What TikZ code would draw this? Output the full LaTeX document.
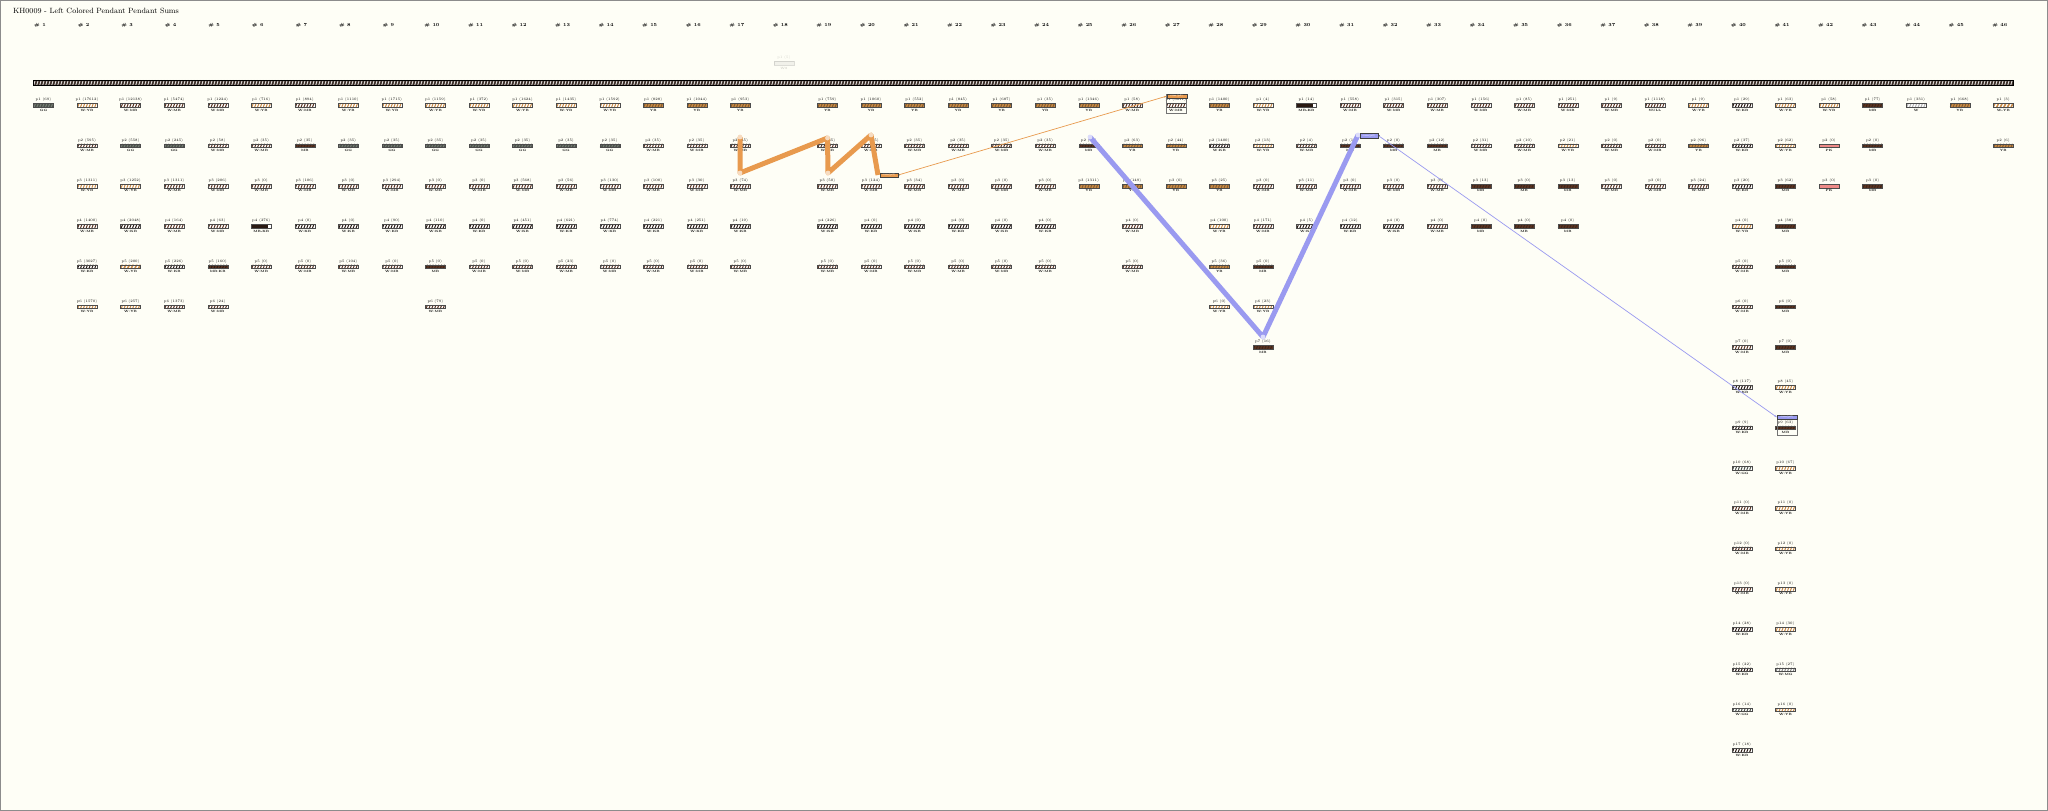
\documentclass[tikz,border=0pt]{standalone}
\usetikzlibrary{calc,arrows.meta}
\definecolor{bgc}{HTML}{FEFEF6}
\definecolor{YBc}{HTML}{C88A45}
\definecolor{MBc}{HTML}{5A3422}
\definecolor{KBc}{HTML}{2A1A12}
\definecolor{GGc}{HTML}{4B5249}
\definecolor{PKc}{HTML}{EE8A88}
\definecolor{MGc}{HTML}{8A8A84}
\definecolor{ORc}{HTML}{E89A4E}
\definecolor{BLc}{HTML}{9A9AF0}
\definecolor{cordc}{HTML}{3A2C25}
\tikzset{
 lbl/.style={font=\fontsize{3.6}{4}\selectfont, inner sep=0},
 code/.style={font=\fontsize{3.1}{4}\selectfont\bfseries, inner sep=0},
 hdr/.style={font=\fontsize{4.6}{5}\selectfont\bfseries, inner sep=0},
 barbase/.style={minimum width=20bp, minimum height=3.6bp, inner sep=0, draw=black!70, line width=0.3bp},
 mix/.style 2 args={fill=#1, path picture={\foreach \i in {0,...,6}{\draw[#2, line width=1bp] ($(path picture bounding box.south west)+(\i*2.85+0.6,0)$) -- ++(1.4,-3.6);}}},
 WMB/.style={mix={white}{MBc}},
 WYB/.style={mix={white}{YBc}},
 WKB/.style={mix={white}{KBc}},
 WGG/.style={mix={white}{GGc}},
 WMG/.style={mix={white}{MGc}},
 MBKB/.style={mix={MBc}{KBc}},
 YB/.style={mix={YBc}{YBc!65!black}},
 MB/.style={mix={MBc}{MBc!70!black}},
 GG/.style={mix={GGc}{GGc!75!white}},
 PK/.style={fill=PKc},
 W/.style={mix={white}{black!30}},
 HALF/.style={fill=white, path picture={\fill[KBc] (path picture bounding box.north west) rectangle ([xshift=-3.5bp]path picture bounding box.south east);}},
 STR/.style={fill=white, path picture={\foreach \i in {0,...,5}{\fill[YBc] ($(path picture bounding box.south west)+(\i*3.6-1,0)$) -- ++(1.8,0) -- ++(1.8,-3.6) -- ++(-1.8,0) -- cycle;}}},
 thickO/.style={line width=5bp, draw=ORc, line join=round},
 thickB/.style={line width=5bp, draw=BLc, line join=round},
 sumbox/.style={draw=black!75, line width=0.4bp, minimum width=18bp, minimum height=4.4bp, inner sep=0, font=\fontsize{2.6}{3}\selectfont, text=white},
}
\newcommand\kc[5]{%
 \pgfmathsetmacro\kx{43.5+(#1-1)*43.55}%
 \pgfmathsetmacro\ky{100+(#2-1)*40.3}%
 \node[lbl] (l#1-#2) at (\kx,\ky) {p#2 (#3)};
 \node[barbase,#5] (b#1-#2) at (\kx,\ky+5.3) {};
 \node[code] (k#1-#2) at (\kx,\ky+10.3) {#4};
}
\begin{document}
\begin{tikzpicture}[x=1bp,y=-1bp]
\useasboundingbox (0,0) rectangle (2048,811);
\fill[bgc] (0,0) rectangle (2048,811);
\draw[black!45, line width=1.2bp] (0.6,0.6) rectangle (2047.4,810.4);
\node[anchor=west, font=\fontsize{7.6}{9}\selectfont, inner sep=0] (title) at (13,11) {KH0009 - Left Colored Pendant Pendant Sums};
\foreach \i in {1,...,46}{\node[hdr] (h\i) at ({40+(\i-1)*43.55},25) {\# \i};}
% main cord
\node[minimum width=1980bp, minimum height=5bp, inner sep=0, draw=black, line width=0.5bp, fill=cordc,
  path picture={\foreach \i in {0,...,659}{\draw[white!85!cordc, line width=0.9bp] ($(path picture bounding box.south west)+(\i*3+0.8,0)$) -- ++(1.5,-5);}}] (main) at (1023,82.5) {};
% faded top cord
\begin{scope}[opacity=0.18]
\node[lbl] (t18) at (783.9,58) {p1 (5)};
\node[barbase, fill=MGc!60] (tb18) at (783.9,63) {};
\node[code] (tk18) at (783.9,68) {W8};
\end{scope}
% columns 1-7
\kc{1}{1}{69}{GG}{GG}
\kc{2}{1}{17612}{W:YB}{WYB}\kc{2}{2}{595}{W:MB}{WMB}\kc{2}{3}{1311}{W:YB}{WYB}\kc{2}{4}{1400}{W:MB}{WMB}\kc{2}{5}{3027}{W:KB}{WKB}\kc{2}{6}{1570}{W:YB}{WYB}
\kc{3}{1}{12138}{W:MB}{WMB}\kc{3}{2}{558}{GG}{GG}\kc{3}{3}{1252}{W:YB}{WYB}\kc{3}{4}{2048}{W:KB}{WKB}\kc{3}{5}{200}{W-YB}{STR}\kc{3}{6}{257}{W:YB}{WYB}
\kc{4}{1}{5474}{W:MB}{WMB}\kc{4}{2}{245}{GG}{GG}\kc{4}{3}{1311}{W:MB}{WMB}\kc{4}{4}{164}{W:MB}{WMB}\kc{4}{5}{226}{W:KB}{WKB}\kc{4}{6}{1373}{W:MB}{WMB}
\kc{5}{1}{1224}{W:MB}{WMB}\kc{5}{2}{58}{W:MB}{WMB}\kc{5}{3}{206}{W:MB}{WMB}\kc{5}{4}{63}{W:MB}{WMB}\kc{5}{5}{160}{MB:KB}{MBKB}\kc{5}{6}{24}{W:MB}{WMB}
\kc{6}{1}{716}{W:YB}{WYB}\kc{6}{2}{35}{W:MB}{WMB}\kc{6}{3}{0}{W:MB}{WMB}\kc{6}{4}{276}{MB-KB}{HALF}\kc{6}{5}{0}{W:MB}{WMB}
\kc{7}{1}{894}{W:MB}{WMB}\kc{7}{2}{35}{MB}{MB}\kc{7}{3}{106}{W:MB}{WMB}\kc{7}{4}{0}{W:KB}{WKB}\kc{7}{5}{0}{W:MB}{WMB}
% columns 8-16
\kc{8}{1}{1110}{W:YB}{WYB}\kc{8}{2}{35}{GG}{GG}\kc{8}{3}{0}{W:MB}{WMB}\kc{8}{4}{0}{W:KB}{WKB}\kc{8}{5}{104}{W:MB}{WMB}
\kc{9}{1}{1715}{W:YB}{WYB}\kc{9}{2}{35}{GG}{GG}\kc{9}{3}{294}{W:MB}{WMB}\kc{9}{4}{90}{W:KB}{WKB}\kc{9}{5}{0}{W:MB}{WMB}
\kc{10}{1}{1159}{W:YB}{WYB}\kc{10}{2}{35}{GG}{GG}\kc{10}{3}{0}{W:MB}{WMB}\kc{10}{4}{110}{W:KB}{WKB}\kc{10}{5}{0}{MB}{MB}\kc{10}{6}{79}{W:MB}{WMB}
\kc{11}{1}{372}{W:YB}{WYB}\kc{11}{2}{35}{GG}{GG}\kc{11}{3}{0}{W:MB}{WMB}\kc{11}{4}{0}{W:KB}{WKB}\kc{11}{5}{0}{W:MB}{WMB}
\kc{12}{1}{1624}{W:YB}{WYB}\kc{12}{2}{35}{GG}{GG}\kc{12}{3}{568}{W:MB}{WMB}\kc{12}{4}{451}{W:KB}{WKB}\kc{12}{5}{0}{W:MB}{WMB}
\kc{13}{1}{1435}{W:YB}{WYB}\kc{13}{2}{35}{GG}{GG}\kc{13}{3}{56}{W:MB}{WMB}\kc{13}{4}{621}{W:KB}{WKB}\kc{13}{5}{23}{W:MB}{WMB}
\kc{14}{1}{1592}{W:YB}{WYB}\kc{14}{2}{35}{GG}{GG}\kc{14}{3}{130}{W:MB}{WMB}\kc{14}{4}{774}{W:KB}{WKB}\kc{14}{5}{0}{W:MB}{WMB}
\kc{15}{1}{828}{YB}{YB}\kc{15}{2}{35}{W:MB}{WMB}\kc{15}{3}{100}{W:MB}{WMB}\kc{15}{4}{221}{W:KB}{WKB}\kc{15}{5}{0}{W:MB}{WMB}
\kc{16}{1}{1044}{YB}{YB}\kc{16}{2}{35}{W:MB}{WMB}\kc{16}{3}{30}{W:MB}{WMB}\kc{16}{4}{251}{W:KB}{WKB}\kc{16}{5}{0}{W:MB}{WMB}
% columns 17-25
\kc{17}{1}{953}{YB}{YB}\kc{17}{2}{45}{W:MB}{WMB}\kc{17}{3}{74}{W:MB}{WMB}\kc{17}{4}{19}{W:KB}{WKB}\kc{17}{5}{0}{W:MB}{WMB}
\kc{19}{1}{759}{YB}{YB}\kc{19}{2}{35}{W:MB}{WMB}\kc{19}{3}{50}{W:MB}{WMB}\kc{19}{4}{226}{W:KB}{WKB}\kc{19}{5}{0}{W:MB}{WMB}
\kc{20}{1}{1060}{YB}{YB}\kc{20}{2}{35}{W:MB}{WMB}\kc{20}{3}{124}{W:MB}{WMB}\kc{20}{4}{0}{W:KB}{WKB}\kc{20}{5}{0}{W:MB}{WMB}
\kc{21}{1}{552}{YB}{YB}\kc{21}{2}{35}{W:MB}{WMB}\kc{21}{3}{34}{W:MB}{WMB}\kc{21}{4}{0}{W:KB}{WKB}\kc{21}{5}{0}{W:MB}{WMB}
\kc{22}{1}{845}{YB}{YB}\kc{22}{2}{35}{W:MB}{WMB}\kc{22}{3}{0}{W:MB}{WMB}\kc{22}{4}{0}{W:KB}{WKB}\kc{22}{5}{0}{W:MB}{WMB}
\kc{23}{1}{687}{YB}{YB}\kc{23}{2}{35}{W:MB}{WMB}\kc{23}{3}{0}{W:MB}{WMB}\kc{23}{4}{0}{W:KB}{WKB}\kc{23}{5}{0}{W:MB}{WMB}
\kc{24}{1}{35}{YB}{YB}\kc{24}{2}{35}{W:MB}{WMB}\kc{24}{3}{0}{W:MB}{WMB}\kc{24}{4}{0}{W:KB}{WKB}\kc{24}{5}{0}{W:MB}{WMB}
\kc{25}{1}{1346}{YB}{YB}\kc{25}{2}{55}{MB}{MB}\kc{25}{3}{1311}{YB}{YB}
% columns 26-36
\kc{26}{1}{58}{W:MB}{WMB}\kc{26}{2}{63}{YB}{YB}\kc{26}{3}{149}{YB}{YB}\kc{26}{4}{0}{W:MB}{WMB}\kc{26}{5}{0}{W:MB}{WMB}
\kc{27}{1}{3611}{W:MB}{WMB}\kc{27}{2}{44}{YB}{YB}\kc{27}{3}{0}{YB}{YB}
\kc{28}{1}{1400}{YB}{YB}\kc{28}{2}{1400}{W:KB}{WKB}\kc{28}{3}{25}{YB}{YB}\kc{28}{4}{100}{W:YB}{WYB}\kc{28}{5}{36}{YB}{YB}\kc{28}{6}{0}{W:YB}{WYB}
\kc{29}{1}{4}{W:YB}{WYB}\kc{29}{2}{13}{W:YB}{WYB}\kc{29}{3}{0}{W:MB}{WMB}\kc{29}{4}{171}{W:MB}{WMB}\kc{29}{5}{0}{MB}{MB}\kc{29}{6}{23}{W:YB}{WYB}\kc{29}{7}{16}{MB}{MB}
\kc{30}{1}{14}{MB-KB}{HALF}\kc{30}{2}{4}{W:MB}{WMB}\kc{30}{3}{11}{W:MB}{WMB}\kc{30}{4}{5}{W:KB}{WKB}
\kc{31}{1}{558}{W:MB}{WMB}\kc{31}{2}{12}{MB}{MB}\kc{31}{3}{0}{W:MB}{WMB}\kc{31}{4}{12}{W:KB}{WKB}
\kc{32}{1}{315}{W:MB}{WMB}\kc{32}{2}{0}{MB}{MB}\kc{32}{3}{0}{W:MB}{WMB}\kc{32}{4}{0}{W:KB}{WKB}
\kc{33}{1}{307}{W:MB}{WMB}\kc{33}{2}{12}{MB}{MB}\kc{33}{3}{0}{W:MB}{WMB}\kc{33}{4}{0}{W:MB}{WMB}
\kc{34}{1}{156}{W:MB}{WMB}\kc{34}{2}{31}{W:MB}{WMB}\kc{34}{3}{13}{MB}{MB}\kc{34}{4}{0}{MB}{MB}
\kc{35}{1}{85}{W:MB}{WMB}\kc{35}{2}{10}{W:MB}{WMB}\kc{35}{3}{0}{MB}{MB}\kc{35}{4}{0}{MB}{MB}
\kc{36}{1}{251}{W:MB}{WMB}\kc{36}{2}{21}{W:YB}{WYB}\kc{36}{3}{13}{MB}{MB}\kc{36}{4}{0}{MB}{MB}
% columns 37-46
\kc{37}{1}{9}{W:MB}{WMB}\kc{37}{2}{0}{W:MB}{WMB}\kc{37}{3}{0}{W:MB}{WMB}
\kc{38}{1}{1118}{NULL}{WMB}\kc{38}{2}{0}{W:MB}{WMB}\kc{38}{3}{0}{W:MB}{WMB}
\kc{39}{1}{9}{W:YB}{WYB}\kc{39}{2}{96}{YB}{YB}\kc{39}{3}{24}{W:MB}{WMB}
\kc{40}{1}{29}{W:KB}{WKB}\kc{40}{2}{37}{W:KB}{WKB}\kc{40}{3}{20}{W:KB}{WKB}\kc{40}{4}{0}{W:YB}{WYB}\kc{40}{5}{0}{W:MB}{WMB}\kc{40}{6}{0}{W:MB}{WMB}\kc{40}{7}{0}{W:MB}{WMB}\kc{40}{8}{117}{W:KB}{WKB}\kc{40}{9}{9}{W:KB}{WKB}\kc{40}{10}{68}{W:GG}{WGG}\kc{40}{11}{0}{W:MB}{WMB}\kc{40}{12}{0}{W:MB}{WMB}\kc{40}{13}{0}{W:MB}{WMB}\kc{40}{14}{28}{W:KB}{WKB}\kc{40}{15}{22}{W:KB}{WKB}\kc{40}{16}{14}{W:GG}{WGG}\kc{40}{17}{18}{W:KB}{WKB}
\kc{41}{1}{63}{W:YB}{WYB}\kc{41}{2}{62}{W:YB}{WYB}\kc{41}{3}{62}{MB}{MB}\kc{41}{4}{38}{MB}{MB}\kc{41}{5}{0}{MB}{MB}\kc{41}{6}{0}{MB}{MB}\kc{41}{7}{0}{MB}{MB}\kc{41}{8}{45}{W:YB}{WYB}\kc{41}{9}{63}{MB}{MB}\kc{41}{10}{67}{W:YB}{WYB}\kc{41}{11}{0}{W:YB}{WYB}\kc{41}{12}{0}{W:YB}{WYB}\kc{41}{13}{0}{W:YB}{WYB}\kc{41}{14}{30}{W:YB}{WYB}\kc{41}{15}{27}{W:MG}{WMG}\kc{41}{16}{0}{W:YB}{WYB}
\kc{42}{1}{58}{W:YB}{WYB}\kc{42}{2}{0}{PK}{PK}\kc{42}{3}{0}{PK}{PK}
\kc{43}{1}{77}{MB}{MB}\kc{43}{2}{0}{MB}{MB}\kc{43}{3}{0}{MB}{MB}
\kc{44}{1}{331}{W}{W}
\kc{45}{1}{668}{YB}{YB}
\kc{46}{1}{3}{W-YB}{STR}\kc{46}{2}{6}{YB}{YB}
% boxed cells
\draw[black!55, line width=0.5bp] (1166.7,94) rectangle (1186.7,113.3);
\node[sumbox, fill=ORc, minimum width=20bp] (s27) at (1176.7,96.2) {sum(p3)};
\draw[black!55, line width=0.5bp] (1777,415) rectangle (1797,435);
\node[sumbox, fill=BLc, minimum width=20bp] (s41) at (1787,417.2) {sum(p2)};
% orange path
\coordinate (o1) at (740,137); \coordinate (o2) at (740,173);
\coordinate (o3) at (827.5,138); \coordinate (o4) at (828,173);
\coordinate (o5) at (871,135); \coordinate (o6) at (878,175);
\draw[thickO] (o1) -- (o2) -- (o3) -- (o4) -- (o5) -- (o6);
\foreach \p in {o1,o2,o3,o4,o5}{\fill[ORc!35] (\p) circle (2.4bp);}
\node[sumbox, fill=ORc] (os) at (889,175) {sum(p3)};
\draw[ORc, line width=0.7bp, -{Stealth[length=2.5bp,width=2bp]}] (os.east) -- (s27.west);
\fill[black!75] (os.east) ++(0,-1.2) -- ++(1.6,1.2) -- ++(-1.6,1.2) -- cycle;
% blue path
\coordinate (u1) at (1090,137); \coordinate (u2) at (1263,337); \coordinate (u3) at (1358,135);
\draw[thickB] (u1) -- (u2) -- (u3);
\foreach \p in {u1,u2,u3}{\fill[BLc!35] (\p) circle (2.4bp);}
\node[sumbox, fill=BLc] (bs) at (1369,135.5) {sum(p2)};
\draw[BLc, line width=0.7bp, -{Stealth[length=2.5bp,width=2bp]}] (bs.east) -- (s41.west);
\fill[black!75] (bs.east) ++(0,-1.2) -- ++(1.6,1.2) -- ++(-1.6,1.2) -- cycle;
\end{tikzpicture}
\end{document}
